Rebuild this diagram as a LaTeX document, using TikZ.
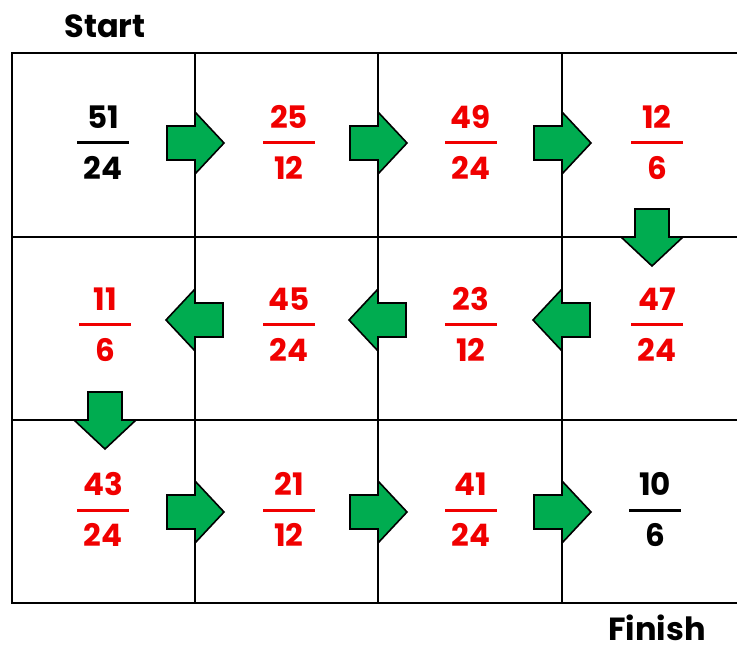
\documentclass[tikz,border=0pt]{standalone}
\usepackage{fontspec}
\setmainfont{Poppins}
\definecolor{arrgreen}{RGB}{0,172,80}
\definecolor{fracred}{RGB}{240,0,0}
\newcommand{\myfrac}[6]{%
  \node[fr,text=#6] (#1n) at (#2,#3-26) {#4};
  \node[fr,text=#6] (#1d) at (#2,#3+25) {#5};
  \draw[line width=3,#6] (#2-26,#3) -- (#2+26,#3);
}
\begin{document}
\begin{tikzpicture}[x=1pt,y=-1pt,
  fr/.style={font=\fontsize{31}{31}\selectfont\bfseries,inner sep=0pt},
  lbl/.style={font=\fontsize{32}{32}\selectfont\bfseries,inner sep=0pt},
  grid/.style={line width=2.2pt,black},
  arr/.style={draw=black,line width=1.6pt,fill=arrgreen,line join=miter},
  blockarrow/.pic={\path[arr] (-28,-17) -- (0,-17) -- (0,-31) -- (29,0) -- (0,31) -- (0,17) -- (-28,17) -- cycle;}]
\useasboundingbox (0,0) rectangle (737,647);
% grid
\draw[grid] (12,53) rectangle (747,603);
\draw[grid] (195,53) -- (195,603);
\draw[grid] (378,53) -- (378,603);
\draw[grid] (562,53) -- (562,603);
\draw[grid] (12,237) -- (747,237);
\draw[grid] (12,420) -- (747,420);
% labels
\node[lbl] (start) at (105,26) {Start};
\node[lbl] (finish) at (657,628) {Finish};
% fractions
\myfrac{a}{103}{143}{51}{24}{black}
\myfrac{b}{289}{143}{25}{12}{fracred}
\myfrac{c}{471}{143}{49}{24}{fracred}
\myfrac{d}{657}{143}{12}{6}{fracred}
\myfrac{e}{105}{325}{11}{6}{fracred}
\myfrac{f}{289}{325}{45}{24}{fracred}
\myfrac{g}{471}{325}{23}{12}{fracred}
\myfrac{h}{657}{325}{47}{24}{fracred}
\myfrac{i}{103}{510}{43}{24}{fracred}
\myfrac{j}{289}{510}{21}{12}{fracred}
\myfrac{k}{471}{510}{41}{24}{fracred}
\myfrac{l}{655}{510}{10}{6}{black}
% arrows
\pic at (195,143) {blockarrow};
\pic at (378,143) {blockarrow};
\pic at (562,143) {blockarrow};
\pic[rotate=-90] at (652,237) {blockarrow};
\pic[rotate=180] at (195,320) {blockarrow};
\pic[rotate=180] at (378,320) {blockarrow};
\pic[rotate=180] at (562,320) {blockarrow};
\pic[rotate=-90] at (105,420) {blockarrow};
\pic at (195,512) {blockarrow};
\pic at (378,512) {blockarrow};
\pic at (562,512) {blockarrow};
\end{tikzpicture}
\end{document}
